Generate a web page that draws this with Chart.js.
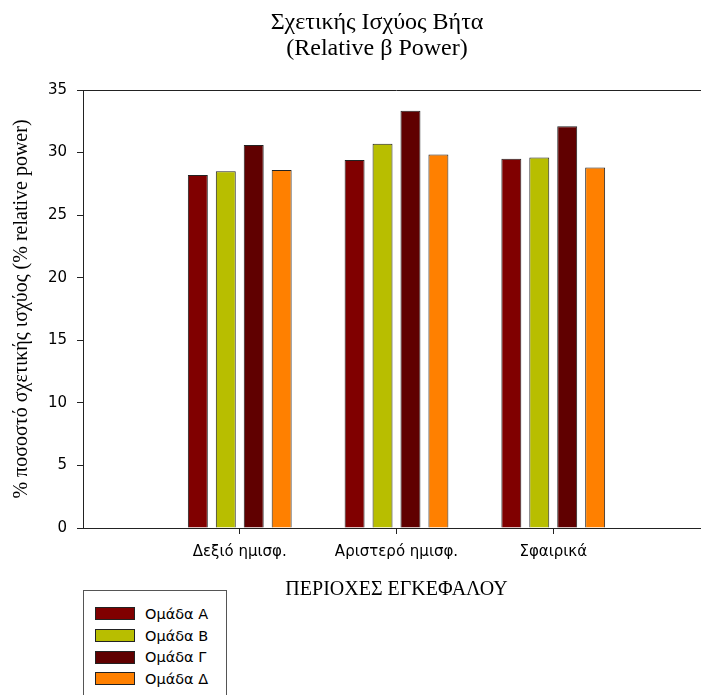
<!DOCTYPE html>
<html>
<head>
<meta charset="utf-8">
<script src="https://cdn.jsdelivr.net/npm/chart.js@4"></script>
<style>
  html, body { margin: 0; padding: 0; background: #fff; overflow: hidden; }
  #wrap { position: relative; width: 701px; height: 695px; overflow: hidden; }
  #legend {
    position: absolute; left: 83px; top: 590px; width: 144px; height: 120px;
    border: 1px solid #555; box-sizing: border-box; background: #fff;
    font-family: "DejaVu Sans", sans-serif; font-size: 14.5px; color: #000;
    padding-top: 12px;
  }
  .item { display: flex; align-items: center; height: 21.7px; }
  .swatch { width: 38px; height: 11px; border: 1px solid #222; margin-left: 11px; margin-right: 10px; }
</style>
</head>
<body>
<div id="wrap">
  <canvas id="chart" width="719" height="695"></canvas>
  <div id="legend"></div>
</div>
<script>
const regions = ["Δεξιό ημισφ.", "Αριστερό ημισφ.", "Σφαιρικά"];
const groupNames = ["Ομάδα Α", "Ομάδα Β", "Ομάδα Γ", "Ομάδα Δ"];
const groupColors = ["#800000", "#b8be00", "#600000", "#ff8000"];
const groupA = [28.2, 29.4, 29.5];
const groupB = [28.5, 30.7, 29.6];
const groupG = [30.6, 33.35, 32.1];
const groupD = [28.6, 29.85, 28.8];
const yTicks = [0, 5, 10, 15, 20, 25, 30, 35];

const seriesValues = [groupA, groupB, groupG, groupD];
const serif = "'Liberation Serif', 'Times New Roman', serif";
const sans = "'DejaVu Sans', sans-serif";

// header text + top frame line
const extras = {
  id: 'extras',
  afterDraw(chart) {
    const ctx = chart.ctx;
    const area = chart.chartArea;
    ctx.save();
    ctx.strokeStyle = '#222';
    ctx.lineWidth = 1;
    ctx.beginPath();
    ctx.moveTo(area.left, area.top + 0.5);
    ctx.lineTo(area.right, area.top + 0.5);
    ctx.stroke();
    ctx.fillStyle = '#000';
    ctx.textAlign = 'center';
    ctx.textBaseline = 'middle';
    ctx.font = "24px " + serif;
    ctx.fillText("Σχετικής Ισχύος Βήτα", 377, 23);
    ctx.fillText("(Relative β Power)", 377, 49);
    ctx.restore();
  }
};

const datasets = groupNames.map((name, i) => ({
  label: name,
  data: seriesValues[i].map((v, j) => ({ x: j + 1, y: v })),
  backgroundColor: groupColors[i],
  borderColor: '#222',
  borderWidth: 1,
  categoryPercentage: 0.713,
  barPercentage: 0.714
}));

new Chart(document.getElementById("chart").getContext("2d"), {
  type: 'bar',
  data: { datasets: datasets },
  options: {
    responsive: false,
    animation: false,
    layout: { padding: { top: 90, left: 0, right: 0, bottom: 0 } },
    plugins: {
      legend: { display: false },
      title: { display: false },
      tooltip: { enabled: false }
    },
    scales: {
      x: {
        type: 'linear',
        min: 0,
        max: 4,
        offset: false,
        afterFit(scale) { scale.height = 167; },
        afterBuildTicks(scale) {
          scale.ticks = [0, 1, 2, 3, 4].map(v => ({ value: v }));
        },
        grid: {
          offset: false,
          drawOnChartArea: false,
          tickLength: 6,
          tickColor: (c) => (c.tick && c.tick.value >= 1 && c.tick.value <= 3) ? '#222' : 'rgba(0,0,0,0)'
        },
        border: { color: '#222', width: 1 },
        ticks: {
          autoSkip: false,
          maxRotation: 0,
          padding: 9,
          color: '#000',
          font: { family: sans, size: 15 },
          callback: (v) => regions[v - 1] || ''
        },
        title: {
          display: true,
          text: "ΠΕΡΙΟΧΕΣ ΕΓΚΕΦΑΛΟΥ",
          color: '#000',
          font: { family: serif, size: 20 },
          padding: { top: 0, bottom: 93 }
        }
      },
      y: {
        min: 0,
        max: 35,
        afterFit(scale) { scale.width = 83; },
        afterBuildTicks(scale) {
          scale.ticks = yTicks.map(v => ({ value: v }));
        },
        grid: { drawOnChartArea: false, tickLength: 6, tickColor: '#222' },
        border: { color: '#222', width: 1 },
        ticks: {
          padding: 10,
          color: '#000',
          font: { family: sans, size: 15 }
        },
        title: {
          display: true,
          text: "% ποσοστό σχετικής ισχύος (% relative power)",
          color: '#000',
          font: { family: serif, size: 20 },
          padding: { top: 10, bottom: 0 }
        }
      }
    }
  },
  plugins: [extras]
});

const legendEl = document.getElementById("legend");
groupNames.forEach((name, i) => {
  const row = document.createElement("div");
  row.className = "item";
  const sw = document.createElement("span");
  sw.className = "swatch";
  sw.style.background = groupColors[i];
  const txt = document.createElement("span");
  txt.innerText = name;
  row.appendChild(sw);
  row.appendChild(txt);
  legendEl.appendChild(row);
});
</script>
</body>
</html>
